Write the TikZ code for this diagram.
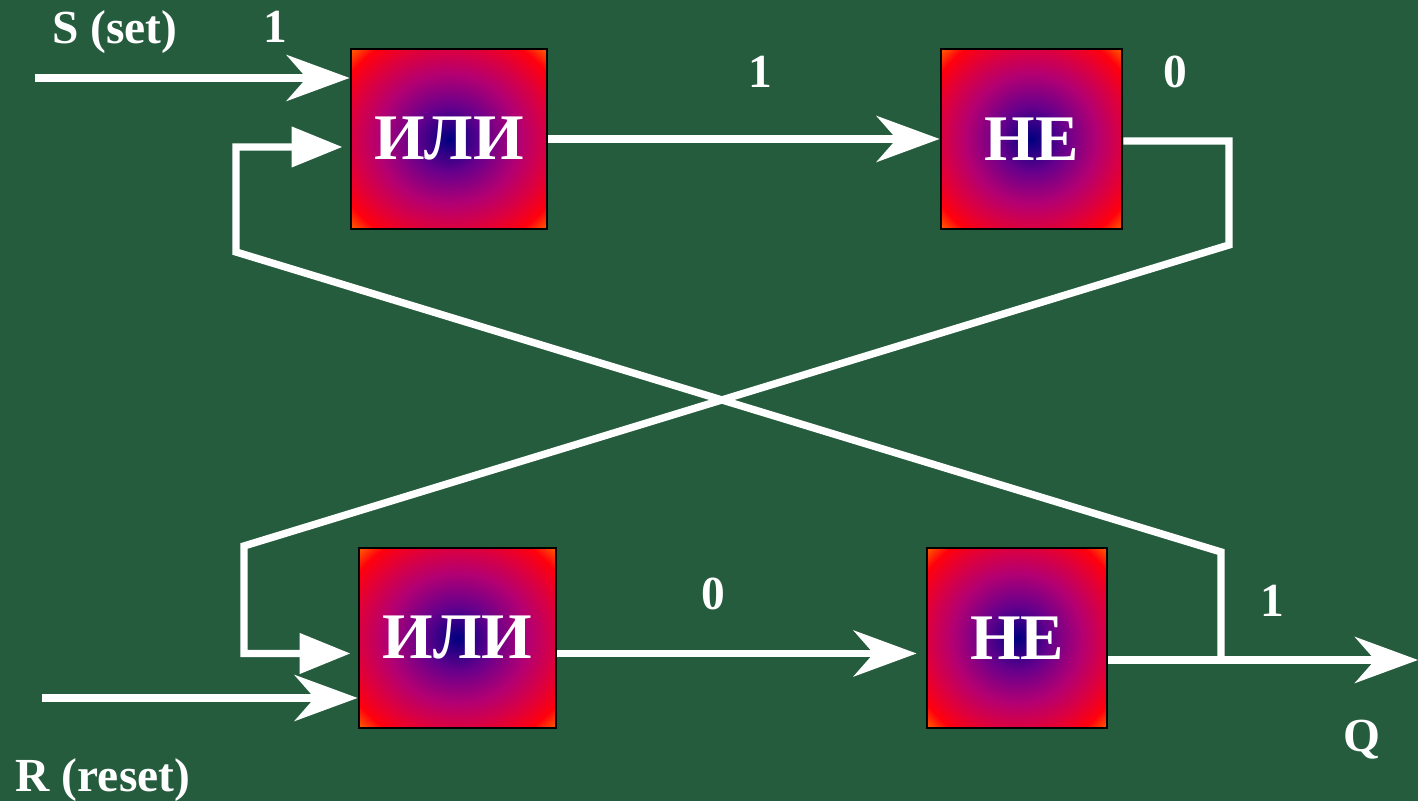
\documentclass[tikz,border=0pt]{standalone}
\usepackage{fontspec}
\setmainfont{Liberation Serif}
\usetikzlibrary{arrows.meta}
\definecolor{bggreen}{RGB}{38,92,62}
\pgfdeclareradialshading{gateshade}{\pgfpoint{0bp}{0bp}}{rgb(0bp)=(0,0,0.5); rgb(9bp)=(0.4,0,0.55); rgb(18bp)=(0.7,0,0.45); rgb(25bp)=(0.86,0,0.25); rgb(31bp)=(1,0,0.05); rgb(35bp)=(1,0.35,0); rgb(50bp)=(1,0.4,0)}

\begin{document}
\begin{tikzpicture} [scale = 1,
  gate/.style = {draw = black, line width = 0.8pt, shade, shading = gateshade, minimum height = 1.8cm, inner sep = 0pt, text = white, font = \bfseries\fontsize{18.5}{20}\selectfont},
  wire/.style = {white, line width = 2.1pt},
  arr/.style = {wire, -{Stealth[length = 0.63cm, width = 0.46cm, inset = 0.2cm]}},
  back/.style = {wire, -{Triangle[length = 0.51cm, width = 0.39cm]}, shorten > = 0.07cm},
  lbl/.style = {anchor = base, inner sep = 0pt, text = white, font = \bfseries\fontsize{13.5}{15}\selectfont}]
\fill[bggreen] (0, 0) rectangle (14.18, 8.01);
\useasboundingbox (0, 0) rectangle (14.18, 8.01);

\node[gate, minimum width = 1.96cm] (or1) at (4.49, 6.62) {ИЛИ};
\node[gate, minimum width = 1.81cm] (ne1) at (10.315, 6.62) {НЕ};
\node[gate, minimum width = 1.97cm] (or2) at (4.575, 1.63) {ИЛИ};
\node[gate, minimum width = 1.80cm] (ne2) at (10.17, 1.63) {НЕ};

\coordinate (sin) at (0.35, 7.23);
\coordinate (rin) at (0.42, 1.03);
\coordinate (qout) at (14.18, 1.41);
\coordinate (ta) at (12.29, 5.56);
\coordinate (tb) at (2.44, 2.55);
\coordinate (fa) at (2.36, 5.49);
\coordinate (fb) at (12.21, 2.49);

\draw[arr] (sin) -- (sin -| or1.west);
\draw[arr] (rin) -- (rin -| or2.west);
\draw[arr] (or1.east) -- (ne1.west);
\draw[arr, shorten > = 0.09cm] ([yshift = -0.155cm]or2.east) -- ([yshift = -0.155cm]ne2.west);
\draw[back] ([yshift = -0.02cm]ne1.east) -| (ta) -- (tb) |- ([yshift = -0.155cm]or2.west);
\draw[back] (fb |- qout) -- (fb) -- (fa) |- ([yshift = -0.08cm]or1.west);
\draw[arr] ([yshift = -0.22cm]ne2.east) -- (qout);

\node[lbl] (slbl) at (1.15, 7.57) {S (set)};
\node[lbl] (rlbl) at (1.03, 0.09) {R (reset)};
\node[lbl] (qlbl) at (13.62, 0.49) {Q};
\node[lbl] (sval) at (2.75, 7.58) {1};
\node[lbl] (or1val) at (7.60, 7.13) {1};
\node[lbl] (ne1val) at (11.75, 7.13) {0};
\node[lbl] (or2val) at (7.13, 1.91) {0};
\node[lbl] (ne2val) at (12.72, 1.84) {1};
\end{tikzpicture}
\end{document}
